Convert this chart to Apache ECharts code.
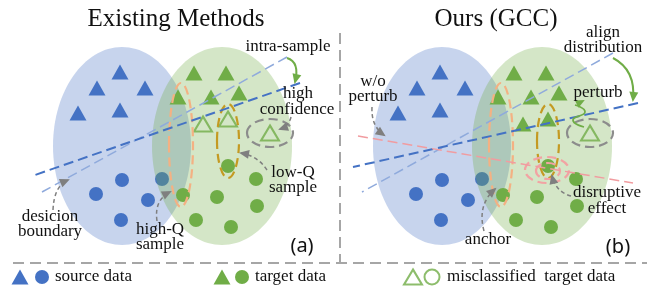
<!DOCTYPE html>
<html>
<head>
<meta charset="utf-8">
<script src="https://cdn.jsdelivr.net/npm/echarts@6/dist/echarts.min.js"></script>
<style>
html, body { margin: 0; padding: 0; background: #fff; }
#chart { width: 660px; height: 289px; }
</style>
</head>
<body>
<div id="chart"></div>
<script>
const BLUE = '#4472c4'
const GREEN = '#70ad47'
const GREY = '#7f7f7f'

// point positions (drawing units, y grows downward)
const srcTri = [[120,72],[97,88],[145,88],[78,113],[120,110],
                [440,72],[417,88],[465,88],[398,113],[440,110]]
const srcDot = [[122,180],[162,179],[96,194],[148,200],[121,220],
                [442,180],[482,179],[416,194],[468,200],[441,220]]
const tgtTri = [[194,73],[226,73],[178,97],[211,97],[239,93],
                [514,73],[546,73],[498,97],[531,97],[559,93],[523,124],[548,119]]
const tgtDot = [[228,166],[256,179],[183,195],[217,197],[257,206],[196,220],[231,227],
                [548,166],[576,179],[503,195],[537,197],[577,206],[516,220],[551,227]]
const missTri = [[203,124],[228,119],[270,133],[590,133]]

// legend markers
const legTri = [[20,277,BLUE],[222,277,GREEN]]
const legDot = [[42,277,BLUE],[242,277,GREEN]]
const legHollowTri = [[413,277]]
const legHollowDot = [[432,277]]

// [cx, cy, rx, ry]
const blueRegions = [[122,146,69,99],[442,146,69,99]]
const greenRegions = [[222,146,70,99],[542,146,70,99]]
// [cx, cy, rx, ry, colour]
const dashedRings = [
  [181,145,12,62,'#f4b183'],[501,145,12,62,'#f4b183'],
  [228,141,11,37,'#c49a22'],[548,141,11,37,'#c49a22'],
  [270,133,23,14,'#8c8c8c'],[590,133,23,14,'#8c8c8c'],
  [547,170,22,13,'#f2a3a3'],[548,171,12,8,'#f2a3a3']
]

// [x1, y1, x2, y2, colour, width]
const boundaries = [
  [287,57,42,192,'#8faadc',1.5],
  [300,83,35,175,BLUE,2],
  [613,53,362,192,'#8faadc',1.5],
  [638,103,353,167,BLUE,2],
  [358,136,633,183,'#f19ca0',1.5]
]
const separators = [[340,33,340,263],[13,263,647,263]]

// curved arrows [x1, y1, cx, cy, x2, y2]
const greyArrows = [
  [53,210,54,186,68,180],
  [157,221,154,200,170,192],
  [267,170,258,156,241,153],
  [291,117,289,126,280,129],
  [372,107,371,126,384,135],
  [484,231,477,205,495,189],
  [571,196,556,192,552,176]
]
const greenArrows = [
  [287,58,300,62,295,82],
  [613,58,636,70,633,100]
]
const wiggle = [[584,127],[573,120],[585,112],[575,105],[583,101]]

// [x, y, text]
const notes = [
  [288,47,'intra-sample'],[298,94,'high'],[297,110,'confidence'],
  [293,173,'low-Q'],[293,188,'sample'],
  [50,217,'desicion'],[50,232,'boundary'],
  [160,230,'high-Q'],[160,245,'sample'],
  [373,82,'w/o'],[373,97,'perturb'],
  [603,33,'align'],[603,48,'distribution'],
  [598,93,'perturb'],
  [607,193,'disruptive'],[607,209,'effect'],
  [488,240,'anchor']
]
const titles = [[176,19,'Existing Methods'],[496,19,'Ours (GCC)']]
const panelTags = [[302,246,'(a)'],[618,247,'(b)']]
const legendText = [[55,277,'source data'],[255,277,'target data'],[447,277,'misclassified  target data']]

const SERIF = '"Liberation Serif", "DejaVu Serif", serif'

function ellipseSeries(list, z, fill) {
  return {
    type: 'custom', z: z, silent: true,
    data: list.map(d => [d[0], d[1]]),
    renderItem(params, api) {
      const d = list[params.dataIndex]
      const c = api.coord([d[0], d[1]])
      const s = api.size([d[2], d[3]])
      return {
        type: 'ellipse',
        shape: { cx: c[0], cy: c[1], rx: s[0], ry: s[1] },
        style: fill ? { fill: fill, stroke: null }
                    : { fill: null, stroke: d[4], lineWidth: 2.2, lineDash: [9, 5] }
      }
    }
  }
}

function scatter(list, z, symbol, size, color, hollow) {
  return {
    type: 'scatter', z: z, silent: true,
    symbol: symbol, symbolSize: size,
    data: list.map(d => ({ value: [d[0], d[1]], itemStyle: d[2] ? { color: d[2] } : undefined })),
    itemStyle: hollow ? { color: 'rgba(0,0,0,0)', borderColor: GREEN, borderWidth: 2 }
                      : { color: color, opacity: 1 }
  }
}

function segmentSeries(list, z, dash, colour, width) {
  return {
    type: 'custom', z: z, silent: true,
    data: list.map(d => [d[0], d[1]]),
    renderItem(params, api) {
      const d = list[params.dataIndex]
      const a = api.coord([d[0], d[1]])
      const b = api.coord([d[2], d[3]])
      return {
        type: 'line',
        shape: { x1: a[0], y1: a[1], x2: b[0], y2: b[1] },
        style: { stroke: d[4] || colour, lineWidth: d[5] || width, lineDash: dash }
      }
    }
  }
}

function head(p, from, colour, len, half) {
  const dx = p[0] - from[0], dy = p[1] - from[1]
  const l = Math.sqrt(dx * dx + dy * dy) || 1
  const ux = dx / l, uy = dy / l
  const bx = p[0] - ux * len, by = p[1] - uy * len
  return {
    type: 'polygon',
    shape: { points: [[p[0] + ux * 2, p[1] + uy * 2], [bx - uy * half, by + ux * half], [bx + uy * half, by - ux * half]] },
    style: { fill: colour, stroke: null }
  }
}

function arrowSeries(list, z, colour, width, dash) {
  return {
    type: 'custom', z: z, silent: true,
    data: list.map(d => [d[0], d[1]]),
    renderItem(params, api) {
      const d = list[params.dataIndex]
      const p0 = api.coord([d[0], d[1]])
      const c = api.coord([d[2], d[3]])
      const p2 = api.coord([d[4], d[5]])
      return {
        type: 'group',
        children: [
          {
            type: 'bezierCurve',
            shape: { x1: p0[0], y1: p0[1], cpx1: c[0], cpy1: c[1], x2: p2[0], y2: p2[1] },
            style: { stroke: colour, lineWidth: width, lineDash: dash, fill: null }
          },
          head(p2, c, colour, 8, 4.5)
        ]
      }
    }
  }
}

function textSeries(list, z, font, size, align, colour) {
  return {
    type: 'custom', z: z, silent: true,
    data: list.map(d => [d[0], d[1]]),
    renderItem(params, api) {
      const d = list[params.dataIndex]
      const p = api.coord([d[0], d[1]])
      return {
        type: 'text', x: p[0], y: p[1],
        style: { text: d[2], fill: colour || '#111', fontFamily: font, fontSize: size,
                 align: align, verticalAlign: 'middle' }
      }
    }
  }
}

const chart = echarts.init(document.getElementById('chart'), null, { renderer: 'canvas' })

chart.setOption({
  animation: false,
  backgroundColor: '#fff',
  grid: { left: 0, right: 0, top: 0, bottom: 0 },
  xAxis: { type: 'value', min: 0, max: 660, show: false },
  yAxis: { type: 'value', min: 0, max: 289, inverse: true, show: false },
  series: [
    ellipseSeries(blueRegions, 1, 'rgba(68,114,196,0.3)'),
    scatter(srcTri, 2, 'triangle', [17, 15], BLUE),
    scatter(srcDot, 2, 'circle', 14, BLUE),
    ellipseSeries(greenRegions, 3, 'rgba(112,173,71,0.3)'),
    scatter(tgtTri, 4, 'triangle', [17, 15], GREEN),
    scatter(tgtDot, 4, 'circle', 14, GREEN),
    scatter(missTri, 4, 'triangle', [18, 15], GREEN, true),
    ellipseSeries(dashedRings, 5),
    segmentSeries(boundaries, 6, [10, 5]),
    segmentSeries(separators, 6, [11, 6], '#a6a6a6', 2),
    arrowSeries(greyArrows, 7, GREY, 1.5, [4, 3]),
    arrowSeries(greenArrows, 7, GREEN, 2, null),
    {
      type: 'custom', z: 7, silent: true,
      data: [wiggle[0]],
      renderItem(params, api) {
        const pts = wiggle.map(p => api.coord(p))
        return {
          type: 'group',
          children: [
            { type: 'polyline', shape: { points: pts.slice(0, -1), smooth: 0.6 },
              style: { stroke: GREEN, lineWidth: 1.8, fill: null } },
            head(pts[pts.length - 1], pts[pts.length - 2], GREEN, 7, 4)
          ]
        }
      }
    },
    scatter(legTri, 8, 'triangle', [17, 15]),
    scatter(legDot, 8, 'circle', 14),
    scatter(legHollowTri, 8, 'triangle', [18, 15], GREEN, true),
    scatter(legHollowDot, 8, 'circle', 15, GREEN, true),
    textSeries(titles, 9, SERIF, 25, 'center'),
    textSeries(notes, 9, SERIF, 17, 'center'),
    textSeries(legendText, 9, SERIF, 17, 'left'),
    textSeries(panelTags, 9, '"Noto Sans", "Open Sans", sans-serif', 20, 'center')
  ]
})
</script>
</body>
</html>
